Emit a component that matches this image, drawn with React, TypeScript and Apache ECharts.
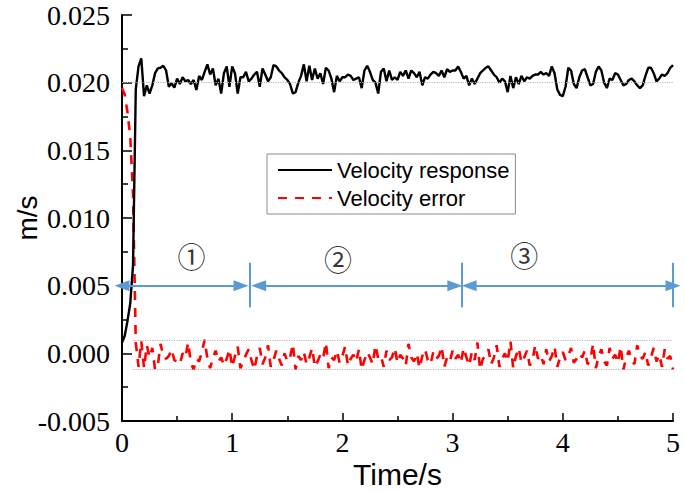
import React, { useEffect, useRef } from "react";
import * as echarts from "echarts";

// sampling step of both records (s)
const TIME_STEP = 0.025;

// Velocity response (m/s), one value every TIME_STEP from t = 0
const VELOCITY_RESPONSE = [
  0.0008, 0.0013, 0.0024, 0.0037, 0.0065, 0.0195, 0.0212, 0.0218, 0.019, 0.0198,
  0.0192, 0.0198, 0.0207, 0.02105, 0.0211, 0.02125, 0.0209, 0.0197, 0.01995, 0.01963,
  0.0203, 0.0199, 0.0204, 0.0201, 0.0202, 0.0199, 0.0202, 0.01946, 0.0205, 0.0202,
  0.0208, 0.02135, 0.0206, 0.02105, 0.0198, 0.0203, 0.0192, 0.0207, 0.0212, 0.0197,
  0.0212, 0.0207, 0.0192, 0.0204, 0.0204, 0.0208, 0.0201, 0.0203, 0.0206, 0.0208,
  0.0197, 0.02105, 0.0206, 0.0201, 0.0204, 0.0213, 0.0212, 0.0209, 0.0207, 0.0204,
  0.0202, 0.0199, 0.0192, 0.0193, 0.02, 0.0205, 0.02135, 0.0201, 0.02125, 0.0202,
  0.02105, 0.0203, 0.0207, 0.0199, 0.0211, 0.0209, 0.0203, 0.0193, 0.0205, 0.0201,
  0.0204, 0.0204, 0.0206, 0.0205, 0.0202, 0.0203, 0.0204, 0.0196, 0.0209, 0.02125,
  0.0208, 0.0202, 0.02, 0.0192, 0.0208, 0.02105, 0.0201, 0.0209, 0.0202, 0.0204,
  0.0202, 0.0208, 0.0205, 0.0209, 0.0203, 0.0209, 0.0207, 0.0204, 0.0208, 0.0198,
  0.0204, 0.0203, 0.0206, 0.0208, 0.0207, 0.0205, 0.0209, 0.0204, 0.021, 0.0208,
  0.0209, 0.0209, 0.0212, 0.0208, 0.0203, 0.0205, 0.0198, 0.0203, 0.0199, 0.0203,
  0.0207, 0.0209, 0.0211, 0.0212, 0.0209, 0.0206, 0.0204, 0.02, 0.0203, 0.0201,
  0.0193, 0.0205, 0.0196, 0.0204, 0.0199, 0.0205, 0.0201, 0.0204, 0.0203, 0.0205,
  0.0206, 0.0206, 0.0208, 0.0206, 0.0207, 0.0205, 0.0212, 0.0207, 0.0195, 0.0191,
  0.019, 0.0197, 0.0211, 0.0209, 0.0199, 0.0196, 0.0204, 0.0209, 0.021, 0.0204,
  0.0198, 0.0199, 0.0208, 0.0212, 0.0209, 0.02, 0.0196, 0.0203, 0.0202, 0.0207,
  0.0206, 0.0202, 0.0198, 0.0199, 0.0202, 0.0203, 0.0201, 0.0198, 0.0196, 0.0198,
  0.0205, 0.0211, 0.0211, 0.0207, 0.0201, 0.0203, 0.0206, 0.0205, 0.0207, 0.0211, 0.0213,
];

// Velocity error (m/s), one value every TIME_STEP from t = 0
const VELOCITY_ERROR = [
  0.0196, 0.0191, 0.0178, 0.016, 0.0118, 0.0008, -0.001,
  0.0009, -0.0011, 0.0006, -0.0003, 0.0004, -0.0012, -0.0009, 0.0007, -0.0002, -0.0004,
  -0.0002, 0.0003, -0.0005, -0.0006, -0.0008, 0.0, -0.0003, 0.0008, -0.0007, -0.0012,
  -0.0004, -0.0006, 0.0001, 0.001, -0.0004, -0.0011, -0.0003, 0.0002, -0.0006, -0.0003,
  -0.0009, -0.0004, 0.0003, -0.001, -0.0002, 0.0005, -0.0011, -0.0006, -0.0001, 0.0003,
  -0.0005, -0.0012, -0.0002, 0.0004, -0.0008, -0.0003, 0.0006, -0.001, -0.0005, 0.0002,
  -0.0004, -0.0009, 0.0, -0.0006, -0.0003, 0.0007, -0.0012, -0.0002, -0.0005, 0.0001,
  -0.0008, -0.0003, 0.0004, -0.001, -0.0006, -0.0001, -0.0004, 0.0008, -0.0011, -0.0003,
  -0.0005, 0.0002, -0.0007, -0.0002, 0.0005, -0.0009, -0.0004, -0.0001, -0.0006, 0.0003,
  -0.0012, -0.0005, 0.0001, -0.0003, -0.0008, 0.0006, -0.0004, -0.0002, -0.001, 0.0002,
  -0.0005, -0.0003, 0.0004, -0.0007, -0.0001, -0.0004, -0.0009, 0.0007, -0.0003, -0.0006,
  0.0, -0.0011, -0.0002, 0.0003, -0.0005, -0.0008, 0.0001, -0.0004, -0.0002, 0.0005,
  -0.001, -0.0003, -0.0006, 0.0002, -0.0004, -0.0001, -0.0007, 0.0004, -0.0003, -0.0009,
  0.0001, -0.0005, 0.0008, -0.0012, -0.0004, -0.0002, 0.0003, -0.0008, -0.0003, 0.0006,
  -0.001, -0.0004, 0.0, -0.0006, 0.0009, -0.0011, -0.0002, 0.0004, -0.0007, -0.0003,
  0.0002, -0.0009, -0.0005, 0.0006, -0.0004, -0.0001, -0.0008, 0.0003, -0.0006, -0.0002,
  0.0005, -0.001, -0.0003, 0.0001, -0.0005, -0.0002, 0.0004, -0.0007, -0.0004, 0.0,
  -0.0003, 0.0002, -0.0008, -0.0005, 0.0007, -0.0011, -0.0002, 0.0003, -0.0006, -0.0009,
  0.0004, -0.0004, -0.0001, -0.0007, 0.0005, -0.0012, -0.0003, 0.0002, -0.0005, -0.0008,
  0.0006, -0.0002, -0.0004, 0.0001, -0.0009, -0.0003, 0.0004, -0.0006, -0.0001, -0.001,
  0.0003, -0.0004, -0.0002, -0.0012,
];

const SERIES_NAMES = ["Velocity response", "Velocity error"];

// reference levels (m/s)
const REFERENCE_VELOCITY = 0.02;
const ERROR_BAND = [0.001, -0.0012];

// stage arrows: [start time, end time] at the level ARROW_LEVEL
const ARROW_LEVEL = 0.005;
const STAGE_ARROWS = [
  [0.0, 1.08],
  [1.24, 3.02],
  [3.15, 5.0],
];
const STAGE_DIVIDERS = [1.16, 3.085, 5.0];
const DIVIDER_SPAN = [0.0034, 0.0067];
const STAGE_LABELS = [
  { t: 0.63, v: 0.0072, text: "①" },
  { t: 1.96, v: 0.007, text: "②" },
  { t: 3.65, v: 0.0073, text: "③" },
];

const SERIF = "'Liberation Serif', 'DejaVu Serif', 'Times New Roman', serif";
const SANS = "'Liberation Sans', Arial, sans-serif";
const ARROW_BLUE = "#5b9bd5";

export default function App() {
  const ref = useRef<HTMLDivElement>(null);

  useEffect(() => {
    if (!ref.current) return;
    const chart = echarts.init(ref.current, null, { renderer: "svg" });

    const responseData = VELOCITY_RESPONSE.map((v, i) => [+(i * TIME_STEP).toFixed(3), v]);
    const errorData = VELOCITY_ERROR.map((v, i) => [+(i * TIME_STEP).toFixed(3), v]);

    const arrowLines: any[] = STAGE_ARROWS.map(([a, b]) => [
      { coord: [a, ARROW_LEVEL] },
      { coord: [b, ARROW_LEVEL] },
    ]);
    const dividerLines: any[] = STAGE_DIVIDERS.map((t) => [
      { coord: [t, DIVIDER_SPAN[0]], symbol: "none" },
      { coord: [t, DIVIDER_SPAN[1]], symbol: "none" },
    ]);

    const tickLabel = {
      fontFamily: SERIF,
      fontSize: 28,
      lineHeight: 22,
      color: "#000",
    };

    const option: any = {
      animation: false,
      backgroundColor: "#ffffff",
      textStyle: { fontFamily: SANS },
      grid: {
        left: 122,
        right: 12,
        top: 15,
        bottom: 71,
        containLabel: false,
        outerBoundsMode: "none",
      },
      legend: {
        data: SERIES_NAMES,
        orient: "vertical",
        left: 267,
        top: 154,
        itemWidth: 54,
        itemHeight: 12,
        itemGap: 6,
        padding: [5, 6, 5, 10],
        borderColor: "#8c8c8c",
        borderWidth: 1,
        backgroundColor: "#ffffff",
        itemStyle: { opacity: 0 },
        textStyle: { fontFamily: SANS, fontSize: 22, color: "#000" },
      },
      xAxis: {
        type: "value",
        min: 0,
        max: 5,
        interval: 1,
        name: "Time/s",
        nameLocation: "middle",
        nameGap: 38,
        nameMoveOverlap: false,
        nameTextStyle: { fontFamily: SANS, fontSize: 30, color: "#000" },
        axisLine: { show: true, onZero: false, lineStyle: { color: "#000", width: 2 } },
        axisTick: { show: true, inside: true, length: 8, lineStyle: { color: "#000", width: 1.5 } },
        minorTick: { show: true, splitNumber: 2, length: 5, lineStyle: { color: "#000", width: 1.5 } },
        axisLabel: { ...tickLabel, margin: 10 },
        splitLine: { show: false },
      },
      yAxis: {
        type: "value",
        min: -0.005,
        max: 0.025,
        interval: 0.005,
        name: "m/s",
        nameLocation: "middle",
        nameGap: 83,
        nameMoveOverlap: false,
        nameTextStyle: { fontFamily: SANS, fontSize: 28, color: "#000", lineHeight: 24 },
        axisLine: { show: true, onZero: false, lineStyle: { color: "#000", width: 2 } },
        axisTick: { show: true, inside: true, length: 10, lineStyle: { color: "#000", width: 1.5 } },
        minorTick: { show: true, splitNumber: 2, length: 6, lineStyle: { color: "#000", width: 1.5 } },
        axisLabel: {
          ...tickLabel,
          margin: 12,
          formatter: (v: number) => v.toFixed(3),
        },
        splitLine: { show: false },
      },
      series: [
        {
          name: "reference",
          type: "line",
          data: [],
          z: 1,
          silent: true,
          markLine: {
            silent: true,
            symbol: "none",
            label: { show: false },
            lineStyle: { color: "#b4b4b4", type: "dotted", width: 1.2 },
            data: [
              [{ coord: [0, REFERENCE_VELOCITY] }, { coord: [5, REFERENCE_VELOCITY] }],
              ...ERROR_BAND.map((v) => [{ coord: [0.1, v] }, { coord: [5, v] }]),
            ],
          },
        },
        {
          name: SERIES_NAMES[1],
          type: "line",
          data: errorData,
          z: 2,
          showSymbol: false,
          symbol: "none",
          lineStyle: { color: "#ff0000", width: 2.6, type: [9, 8] },
          itemStyle: { color: "#ff0000" },
        },
        {
          name: SERIES_NAMES[0],
          type: "line",
          data: responseData,
          z: 3,
          showSymbol: false,
          symbol: "none",
          lineStyle: { color: "#000", width: 2.4 },
          itemStyle: { color: "#000" },
        },
        {
          name: "stages",
          type: "line",
          data: [],
          z: 4,
          clip: false,
          silent: true,
          markLine: {
            silent: true,
            symbol: ["triangle", "triangle"],
            symbolSize: [11, 15],
            label: { show: false },
            lineStyle: { color: ARROW_BLUE, type: "solid", width: 2 },
            itemStyle: { color: ARROW_BLUE },
            data: [...arrowLines, ...dividerLines],
          },
        },
        {
          name: "stage labels",
          type: "scatter",
          data: STAGE_LABELS.map((s) => [s.t, s.v, s.text]),
          z: 5,
          symbolSize: 1,
          itemStyle: { color: "rgba(0,0,0,0)" },
          silent: true,
          label: {
            show: true,
            position: "inside",
            formatter: (p: any) => p.value[2],
            fontFamily: "Noto Sans CJK SC",
            fontSize: 28,
            color: "#000",
          },
        },
      ],
    };

    chart.setOption(option);
    return () => chart.dispose();
  }, []);

  return (
    <div
      ref={ref}
      style={{ position: "fixed", left: 0, top: 0, width: 685, height: 492, background: "#fff" }}
    />
  );
}
